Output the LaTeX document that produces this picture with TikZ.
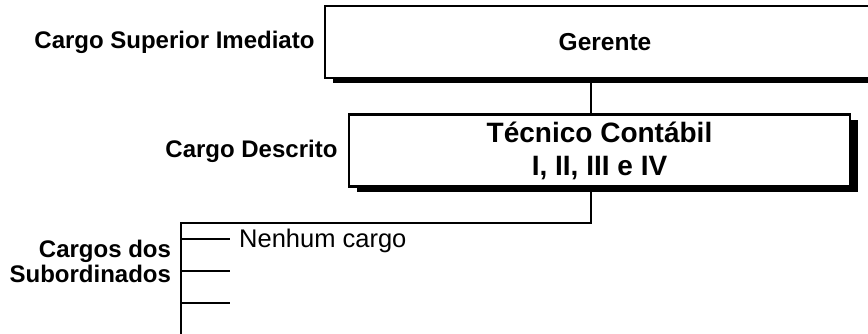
\documentclass[tikz,border=0pt]{standalone}
\usepackage{fontspec}
\setmainfont{Liberation Sans}
\usetikzlibrary{shadows}
\tikzstyle{cargo} = [rectangle, text centered, draw=black, line width=2.2pt, fill=white, general shadow={fill=black, shadow xshift=8pt, shadow yshift=-5pt}]
\tikzstyle{rotulo} = [anchor=base east, align=right, font=\bfseries\fontsize{24}{25}\selectfont]
\tikzstyle{nome} = [anchor=base west, inner sep=0pt, font=\fontsize{25.5}{27}\selectfont]
\tikzstyle{linha} = [line width=1.8pt]

\begin{document}
\begin{tikzpicture}[x=1pt,y=-1pt]
\useasboundingbox (0,0) rectangle (868,333);
\clip (0,0) rectangle (868,333);

\node (gerente) [cargo, line width=2pt, minimum width=560pt, minimum height=72pt, font=\bfseries\fontsize{24.5}{26}\selectfont] at (605,42) {Gerente};
\node (tecnico) [cargo, line width=2.6pt, minimum width=501pt, minimum height=72pt, align=center, font=\bfseries\fontsize{28}{33}\selectfont] at (599.5,150.5) {Técnico Contábil\\I, II, III e IV};

\node (superior) [rotulo] at (318,48) {Cargo Superior Imediato};
\node (descrito) [rotulo] at (341,157) {Cargo Descrito};
\node (subordinados) [rotulo] at (174.5,282) {Cargos dos\\Subordinados};
\node (nenhum) [nome] at (239,247) {Nenhum cargo};

\coordinate (tronco) at (591,0);
\coordinate (canto) at (591,223);
\coordinate (raiz) at (181,223);
\coordinate (fim) at (181,335);

\draw [linha] (tronco |- gerente.south) -- (tronco |- tecnico.north);
\draw [linha] (tronco |- tecnico.south) -- (canto) -- (raiz) -- (fim);
\foreach \y/\ramo in {239/um, 271/dois, 303/tres} {
  \coordinate (ramo\ramo) at (230,\y);
  \draw [linha] (raiz |- ramo\ramo) -- (ramo\ramo);
}

\end{tikzpicture}
\end{document}
